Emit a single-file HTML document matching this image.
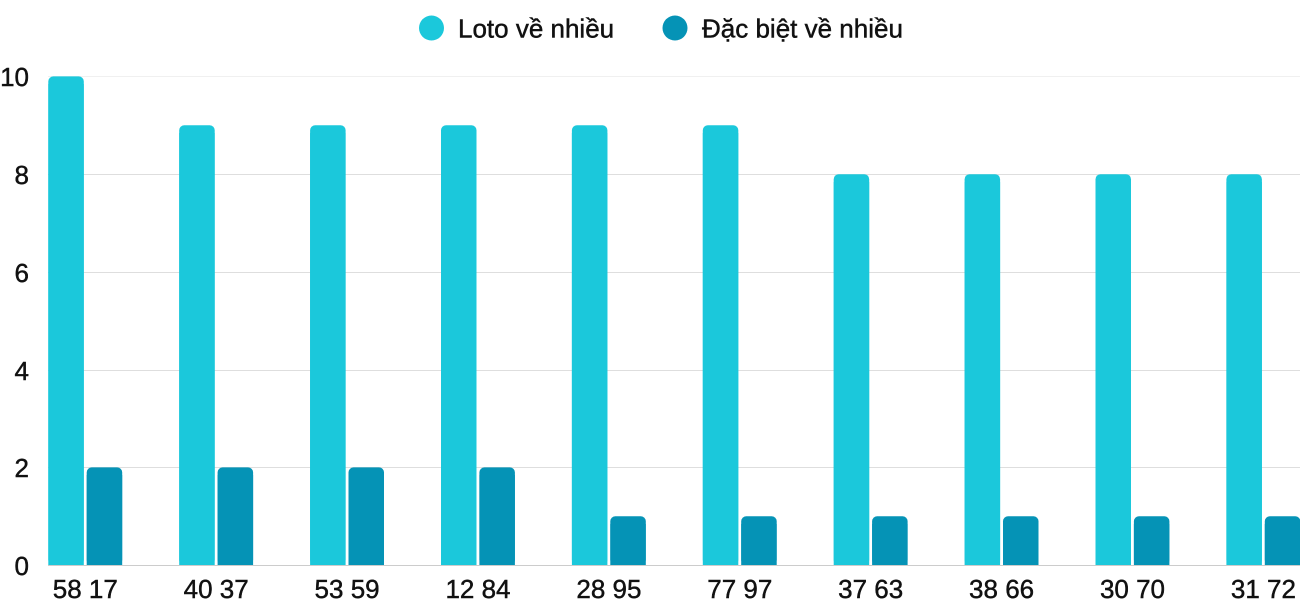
<!DOCTYPE html>
<html>
<head>
<meta charset="utf-8">
<style>
html,body{margin:0;padding:0;background:#fff;}
svg{display:block;}
text{font-family:"Liberation Sans",Arial,sans-serif;font-size:26px;fill:#111;stroke:#111;stroke-width:0.45px;}
</style>
</head>
<body>
<svg width="1300" height="600" viewBox="0 0 1300 600" xmlns="http://www.w3.org/2000/svg">
  <!-- legend -->
  <circle cx="431.5" cy="28" r="12.5" fill="#1bc8db"/>
  <text x="458" y="37.5">Loto về nhiều</text>
  <circle cx="675" cy="28" r="12.5" fill="#0593b6"/>
  <text x="702" y="37.5">Đặc biệt về nhiều</text>

  <!-- grid -->
  <g stroke-width="1">
    <line x1="48" y1="76.5" x2="1300" y2="76.5" stroke="#f0f0f0"/>
    <line x1="48" y1="174.5" x2="1300" y2="174.5" stroke="#dedede"/>
    <line x1="48" y1="272.5" x2="1300" y2="272.5" stroke="#dedede"/>
    <line x1="48" y1="370.5" x2="1300" y2="370.5" stroke="#dedede"/>
    <line x1="48" y1="467.5" x2="1300" y2="467.5" stroke="#dedede"/>
  </g>

  <!-- y labels -->
  <g text-anchor="end">
    <text x="29" y="86">10</text>
    <text x="29" y="184">8</text>
    <text x="29" y="282">6</text>
    <text x="29" y="380">4</text>
    <text x="29" y="477">2</text>
    <text x="29" y="575">0</text>
  </g>

  <!-- loto bars -->
  <g fill="#1bc8db">
    <rect x="48.3" y="76.4" width="35.5" height="488.6" rx="5"/><rect x="48.3" y="84" width="35.5" height="481"/>
    <rect x="179.2" y="125.3" width="35.5" height="439.7" rx="5"/><rect x="179.2" y="133" width="35.5" height="432"/>
    <rect x="310.1" y="125.3" width="35.5" height="439.7" rx="5"/><rect x="310.1" y="133" width="35.5" height="432"/>
    <rect x="441.0" y="125.3" width="35.5" height="439.7" rx="5"/><rect x="441.0" y="133" width="35.5" height="432"/>
    <rect x="571.9" y="125.3" width="35.5" height="439.7" rx="5"/><rect x="571.9" y="133" width="35.5" height="432"/>
    <rect x="702.8" y="125.3" width="35.5" height="439.7" rx="5"/><rect x="702.8" y="133" width="35.5" height="432"/>
    <rect x="833.7" y="174.2" width="35.5" height="390.8" rx="5"/><rect x="833.7" y="182" width="35.5" height="383"/>
    <rect x="964.6" y="174.2" width="35.5" height="390.8" rx="5"/><rect x="964.6" y="182" width="35.5" height="383"/>
    <rect x="1095.5" y="174.2" width="35.5" height="390.8" rx="5"/><rect x="1095.5" y="182" width="35.5" height="383"/>
    <rect x="1226.4" y="174.2" width="35.5" height="390.8" rx="5"/><rect x="1226.4" y="182" width="35.5" height="383"/>
  </g>

  <!-- dac biet bars -->
  <g fill="#0593b6">
    <rect x="86.7" y="467.4" width="35.5" height="97.6" rx="5"/><rect x="86.7" y="475" width="35.5" height="90"/>
    <rect x="217.6" y="467.4" width="35.5" height="97.6" rx="5"/><rect x="217.6" y="475" width="35.5" height="90"/>
    <rect x="348.5" y="467.4" width="35.5" height="97.6" rx="5"/><rect x="348.5" y="475" width="35.5" height="90"/>
    <rect x="479.4" y="467.4" width="35.5" height="97.6" rx="5"/><rect x="479.4" y="475" width="35.5" height="90"/>
    <rect x="610.3" y="516.3" width="35.5" height="48.7" rx="5"/><rect x="610.3" y="524" width="35.5" height="41"/>
    <rect x="741.2" y="516.3" width="35.5" height="48.7" rx="5"/><rect x="741.2" y="524" width="35.5" height="41"/>
    <rect x="872.1" y="516.3" width="35.5" height="48.7" rx="5"/><rect x="872.1" y="524" width="35.5" height="41"/>
    <rect x="1003.0" y="516.3" width="35.5" height="48.7" rx="5"/><rect x="1003.0" y="524" width="35.5" height="41"/>
    <rect x="1133.9" y="516.3" width="35.5" height="48.7" rx="5"/><rect x="1133.9" y="524" width="35.5" height="41"/>
    <rect x="1264.8" y="516.3" width="35.5" height="48.7" rx="5"/><rect x="1264.8" y="524" width="35.5" height="41"/>
  </g>

  <!-- baseline -->
  <line x1="48" y1="565.5" x2="1300" y2="565.5" stroke="#cccccc" stroke-width="1"/>

  <!-- x labels -->
  <g text-anchor="middle">
    <text x="85.3" y="598">58 17</text>
    <text x="216.2" y="598">40 37</text>
    <text x="347.1" y="598">53 59</text>
    <text x="478" y="598">12 84</text>
    <text x="608.9" y="598">28 95</text>
    <text x="739.8" y="598">77 97</text>
    <text x="870.7" y="598">37 63</text>
    <text x="1001.6" y="598">38 66</text>
    <text x="1132.5" y="598">30 70</text>
    <text x="1263.4" y="598">31 72</text>
  </g>
</svg>
</body>
</html>
